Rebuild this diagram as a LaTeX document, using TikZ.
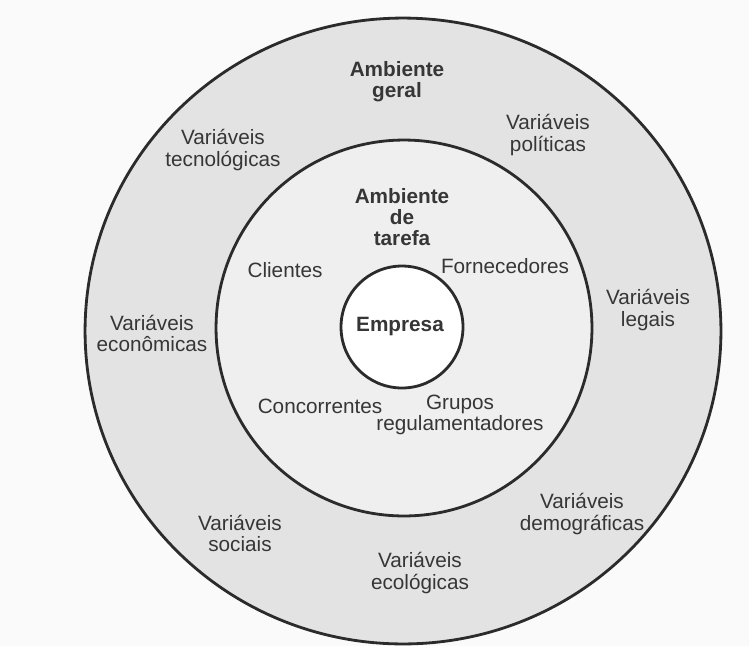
\documentclass[tikz,border=0pt]{standalone}
\usepackage{fontspec}
\setmainfont{Liberation Sans}
\usetikzlibrary{shapes.geometric}
\definecolor{cline}{HTML}{2B2B2B}
\definecolor{ctext}{HTML}{363636}
\definecolor{couter}{HTML}{E3E3E3}
\definecolor{cmiddle}{HTML}{EFEFEF}
\definecolor{cback}{HTML}{FAFAFA}

\begin{document}
\begin{tikzpicture}[
  x=0.02cm, y=-0.02cm,
  ring/.style={draw=cline, line width=1.6pt, inner sep=0pt},
  lbl/.style={align=center, text=ctext, inner sep=1pt,
              font=\fontsize{11.8}{12}\selectfont},
  title/.style={lbl, font=\fontsize{11.8}{12}\selectfont\bfseries}
]
\fill[cback] (0,0) rectangle (749,646);
\useasboundingbox (0,0) rectangle (749,646);

% rings
\node[ring, ellipse, fill=couter, minimum width=12.72cm, minimum height=12.52cm] (geral) at (403,331) {};
\node[ring, circle, fill=cmiddle, minimum size=7.52cm] (tarefa) at (404,328) {};
\node[ring, circle, fill=white, minimum size=2.44cm] (empresa) at (402,327) {};

% ambiente geral
\node[title] (tgeral) at (397,82) {Ambiente\\geral};
\node[lbl] (tecno) at (223,150) {Variáveis\\tecnológicas};
\node[lbl] (polit) at (548,135) {Variáveis\\políticas};
\node[lbl] (legais) at (648,310) {Variáveis\\legais};
\node[lbl] (econ) at (152,333) {Variáveis\\econômicas};
\node[lbl] (sociais) at (240,533) {Variáveis\\sociais};
\node[lbl] (ecolog) at (420,573) {Variáveis\\ecológicas};
\node[lbl] (demog) at (582,514) {Variáveis\\demográficas};

% ambiente de tarefa
\node[title] (ttarefa) at (402,217) {Ambiente\\de\\tarefa};
\node[lbl] (clientes) at (285,270) {Clientes};
\node[lbl] (fornec) at (505,266) {Fornecedores};
\node[lbl] (concor) at (320,406) {Concorrentes};
\node[lbl] (grupos) at (460,415) {Grupos\\regulamentadores};

\node[title] (tempresa) at (400,327) {Empresa};
\end{tikzpicture}
\end{document}
